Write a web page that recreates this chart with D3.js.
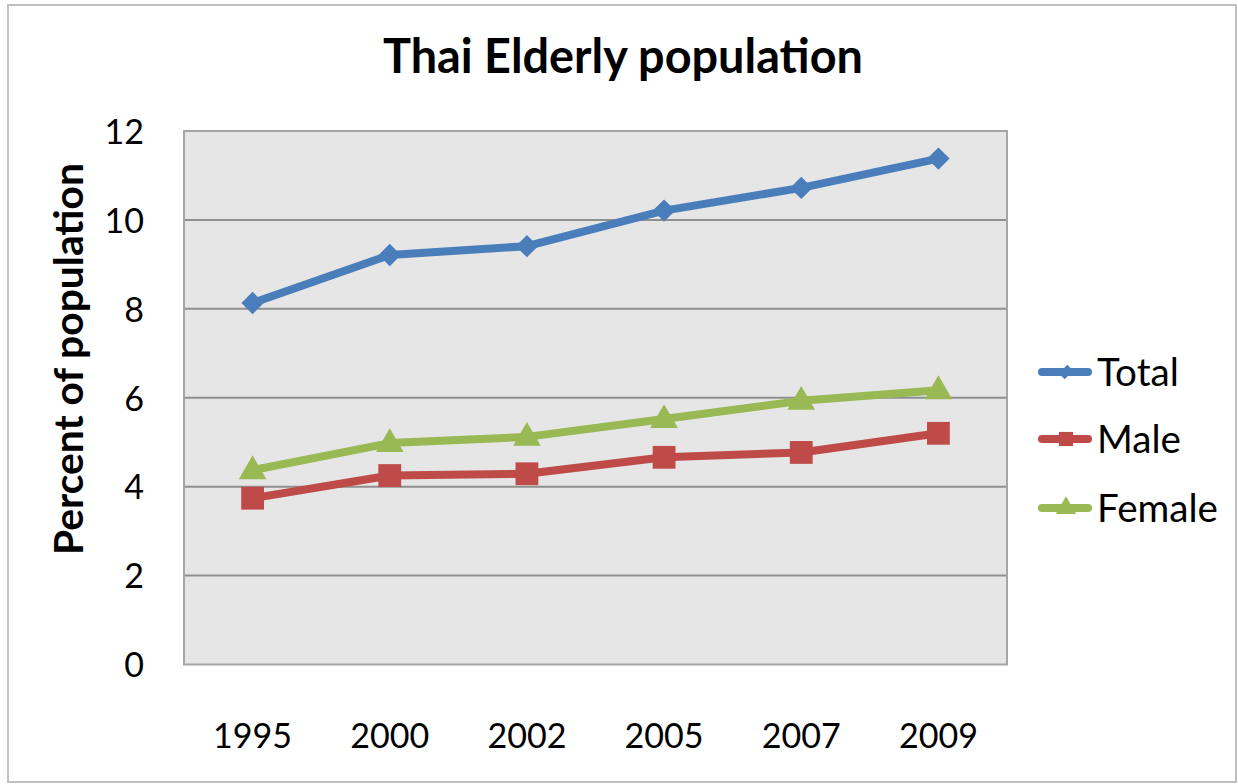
<!DOCTYPE html>
<html><head><meta charset="utf-8">
<script src="https://cdn.jsdelivr.net/npm/d3@7"></script>
<style>html,body{margin:0;padding:0;background:#fff;}svg{display:block;}</style>
</head><body>
<svg id="c" width="1238" height="784"></svg>
<script>
const years = ["1995","2000","2002","2005","2007","2009"];
const totalValues = [8.13, 9.21, 9.41, 10.21, 10.72, 11.38];
const maleValues = [3.74, 4.25, 4.29, 4.66, 4.77, 5.20];
const femaleValues = [4.37, 4.98, 5.12, 5.52, 5.93, 6.17];
const yTicks = [0, 2, 4, 6, 8, 10, 12];
const seriesNames = ["Total", "Male", "Female"];

const series = [
  {name: seriesNames[0], values: totalValues, color: "#4a7ebb"},
  {name: seriesNames[1], values: maleValues, color: "#be4b48"},
  {name: seriesNames[2], values: femaleValues, color: "#98b954"}
];

const FONT = "Lato, 'Open Sans', sans-serif";
const svg = d3.select("#c");
const plot = {left: 184, right: 1007, top: 131, bottom: 664.5};

svg.append("rect").attr("x", 8).attr("y", 5).attr("width", 1228).attr("height", 777)
  .attr("fill", "#fff").attr("stroke", "#c0c0c0").attr("stroke-width", 2);

const x = d3.scaleBand().domain(years).range([plot.left, plot.right]);
const y = d3.scaleLinear().domain([0, 12]).range([plot.bottom, plot.top]);

svg.append("rect").attr("x", plot.left).attr("y", plot.top)
  .attr("width", plot.right - plot.left).attr("height", plot.bottom - plot.top)
  .attr("fill", "#e6e6e6");

svg.append("g").selectAll("line").data(yTicks.filter(t => t > 0 && t < 12)).join("line")
  .attr("x1", plot.left).attr("x2", plot.right)
  .attr("y1", d => y(d)).attr("y2", d => y(d))
  .attr("stroke", "#8f8f8f").attr("stroke-width", 2);

svg.append("rect").attr("x", plot.left).attr("y", plot.top)
  .attr("width", plot.right - plot.left).attr("height", plot.bottom - plot.top)
  .attr("fill", "none").attr("stroke", "#a6a6a6").attr("stroke-width", 2);

function fit(sel, target) {
  const node = sel.node();
  const fs = parseFloat(sel.attr("font-size"));
  const w = node.getComputedTextLength();
  if (w > 0) sel.attr("font-size", (fs * target / w).toFixed(2));
}

const yAxis = d3.axisLeft(y).tickValues(yTicks).tickSize(0).tickPadding(0);
const gy = svg.append("g").attr("transform", `translate(${plot.left - 40},0)`).call(yAxis);
gy.select(".domain").remove();
gy.selectAll("text").attr("font-family", FONT).attr("font-size", 33).attr("fill", "#000")
  .attr("dy", "0.36em");

const xAxis = d3.axisBottom(x).tickSize(0).tickPadding(0);
const gx = svg.append("g").attr("transform", `translate(0,${plot.bottom + 59})`).call(xAxis);
gx.select(".domain").remove();
gx.selectAll("text").attr("font-family", FONT).attr("font-size", 33).attr("fill", "#000");
fit(gx.select("text"), 79);
const fsTick = gx.select("text").attr("font-size");
gx.selectAll("text").attr("font-size", fsTick);
gy.selectAll("text").attr("font-size", fsTick);

const title = svg.append("text").attr("x", 623).attr("y", 73).attr("text-anchor", "middle")
  .attr("font-family", FONT).attr("font-weight", "bold").attr("font-size", 40)
  .attr("fill", "#000").text("Thai Elderly population");
fit(title, 480);

const yt = svg.append("text").attr("transform", "translate(83,359) rotate(-90)")
  .attr("text-anchor", "middle").attr("font-family", FONT).attr("font-weight", "bold")
  .attr("font-size", 34).attr("fill", "#000").text("Percent of population");
fit(yt, 392);

const line = d3.line().x((d, i) => x(years[i]) + x.bandwidth() / 2).y(d => y(d));
series.forEach(s => {
  svg.append("path").datum(s.values).attr("d", line).attr("fill", "none")
    .attr("stroke", s.color).attr("stroke-width", 8).attr("stroke-linejoin", "round");
});

function marker(name, big) {
  if (name === "Total") return {d: d3.symbol().type(d3.symbolSquare).size(big ? 250 : 110)(), rot: 45};
  if (name === "Male") return {d: d3.symbol().type(d3.symbolSquare).size(big ? 520 : 200)(), rot: 0};
  return {d: d3.symbol().type(d3.symbolTriangle).size(big ? 330 : 180)(), rot: 0};
}
series.forEach(s => {
  const m = marker(s.name, true);
  svg.append("g").selectAll("path").data(s.values).join("path")
    .attr("transform", (d, i) => `translate(${x(years[i]) + x.bandwidth() / 2},${y(d) + (s.name === "Female" ? 1 : 0)}) rotate(${m.rot})`)
    .attr("d", m.d)
    .attr("fill", s.color);
});

const legY = [372, 439, 508];
const leg = svg.append("g");
const legTexts = [];
series.forEach((s, i) => {
  const g = leg.append("g").attr("transform", `translate(0,${legY[i]})`);
  g.append("line").attr("x1", 1042).attr("x2", 1088).attr("y1", 0).attr("y2", 0)
    .attr("stroke", s.color).attr("stroke-width", 8).attr("stroke-linecap", "round");
  const m = marker(s.name, false);
  g.append("path").attr("transform", `translate(1066,0) rotate(${m.rot}) ${s.name === "Total" ? "scale(0.8,1.15)" : ""}`)
    .attr("d", m.d).attr("fill", s.color);
  legTexts.push(g.append("text").attr("x", 1097).attr("y", 0).attr("dy", "0.36em")
    .attr("font-family", FONT).attr("font-size", fsTick).attr("fill", "#000").text(s.name));
});
fit(legTexts[2], 121);
const fsLeg = legTexts[2].attr("font-size");
legTexts.forEach(t => t.attr("font-size", fsLeg));
</script>
</body></html>
